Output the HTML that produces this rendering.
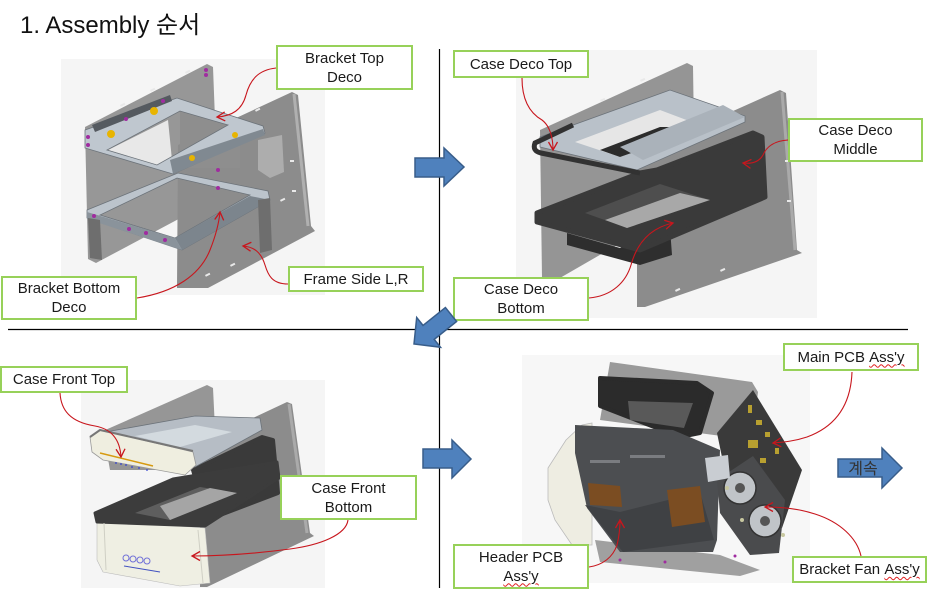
<!DOCTYPE html>
<html>
<head>
<meta charset="utf-8">
<style>
  html,body{margin:0;padding:0;background:#fff;}
  body{width:927px;height:612px;position:relative;overflow:hidden;font-family:"Liberation Sans","Noto Sans CJK KR",sans-serif;}
  svg{position:absolute;left:0;top:0;}
  .lb{position:absolute;box-sizing:border-box;border:2px solid #97d159;background:#fff;color:#1a1a1a;
      font-size:15px;line-height:19px;text-align:center;display:flex;align-items:center;justify-content:center;white-space:nowrap;}
  .sq{text-decoration:underline wavy #e02020;text-decoration-thickness:1px;text-underline-offset:2px;}
</style>
</head>
<body>
<svg width="927" height="612" viewBox="0 0 927 612">
  <!-- ===== Q1 image ===== -->
  <rect x="61" y="59" width="264" height="236" fill="#f5f5f5"/>
  <polygon points="85,127 207,64 213,67 218,198 96,263 88,259" fill="#979797"/>
  <polygon points="108,150 168,120 172,160 157,165" fill="#e8e8e8"/>
  <polygon points="178,145 292,92 298,95 311,226 315,231 208,288 177,288" fill="#8c8c8c"/>
  <line x1="294" y1="94" x2="308" y2="226" stroke="#b0b0b0" stroke-width="3"/>
  <polygon points="180,111 240,128 240,168 180,168" fill="#8e8e8e"/>
  <polygon points="258,140 282,135 284,172 270,178 258,170" fill="#adadad"/>
  <g fill="#e9e9e9">
    <rect x="120" y="105" width="5" height="2" transform="rotate(-27 120 105)"/>
    <rect x="150" y="90" width="5" height="2" transform="rotate(-27 150 90)"/>
    <rect x="185" y="72" width="5" height="2" transform="rotate(-27 185 72)"/>
    <rect x="255" y="110" width="5" height="2" transform="rotate(-27 255 110)"/>
    <rect x="280" y="200" width="5" height="2" transform="rotate(-27 280 200)"/>
    <rect x="230" y="265" width="5" height="2" transform="rotate(-27 230 265)"/>
    <rect x="205" y="275" width="5" height="2" transform="rotate(-27 205 275)"/>
    <rect x="290" y="160" width="4" height="2"/>
    <rect x="292" y="190" width="4" height="2"/>
  </g>
  <path d="M85,130 L177,98 L263,126 L265,133 L173,174 L85,148 Z M107,150 L157,165 L228,125 L180,111 Z" fill="#bfc7cf" fill-rule="evenodd" stroke="#6c737a" stroke-width="0.8"/>
  <polygon points="170,160 263,129 265,135 173,174" fill="#808991"/>
  <polygon points="92,125 170,95 172,101 95,132" fill="#555a60"/>
  <path d="M87,210 L178,173 L268,191 L270,200 L182,250 L87,218 Z M100,215 L175,238 L250,195 L177,178 Z" fill="#bcc4cc" fill-rule="evenodd" stroke="#6c737a" stroke-width="0.8"/>
  <polygon points="175,238 250,196 270,200 182,250" fill="#7c858d"/>
  <polygon points="87,212 175,238 182,250 87,219" fill="#8a939b"/>
  <polygon points="88,218 100,220 102,260 90,258" fill="#6e6e6e"/>
  <polygon points="258,200 270,198 272,250 260,253" fill="#6e6e6e"/>
  <g fill="#e8b400">
    <circle cx="111" cy="134" r="4"/><circle cx="154" cy="111" r="4"/>
    <circle cx="235" cy="135" r="3"/><circle cx="192" cy="158" r="3"/>
  </g>
  <g fill="#a02ca0">
    <circle cx="206" cy="70" r="2"/><circle cx="206" cy="75" r="2"/><circle cx="88" cy="137" r="2"/>
    <circle cx="88" cy="145" r="2"/><circle cx="163" cy="101" r="2"/><circle cx="126" cy="119" r="2"/>
    <circle cx="218" cy="170" r="2"/><circle cx="218" cy="188" r="2"/><circle cx="94" cy="216" r="2"/>
    <circle cx="129" cy="229" r="2"/><circle cx="146" cy="233" r="2"/><circle cx="165" cy="240" r="2"/>
  </g>

  <!-- ===== Q2 image ===== -->
  <rect x="516" y="50" width="301" height="268" fill="#f5f5f5"/>
  <polygon points="540,130 687,63 693,66 695,200 553,282 542,278" fill="#959595"/>
  <polygon points="637,154 780,90 786,93 797,250 802,253 645,307 637,307" fill="#8c8c8c"/>
  <line x1="782" y1="92" x2="795" y2="250" stroke="#aaaaaa" stroke-width="3"/>
  <g fill="#e9e9e9">
    <rect x="600" y="100" width="5" height="2" transform="rotate(-25 600 100)"/>
    <rect x="640" y="80" width="5" height="2" transform="rotate(-25 640 80)"/>
    <rect x="675" y="290" width="5" height="2" transform="rotate(-25 675 290)"/>
    <rect x="720" y="270" width="5" height="2" transform="rotate(-25 720 270)"/>
    <rect x="785" y="160" width="4" height="2"/><rect x="787" y="200" width="4" height="2"/>
  </g>
  <polygon points="567,233 620,248 670,228 672,255 640,265 567,245" fill="#2e2e2e"/>
  <polygon points="537,213 640,173 657,170 753,133 762,137 765,197 640,250 537,222" fill="#3a3a3a" stroke="#3a3a3a" stroke-width="5" stroke-linejoin="round"/>
  <polygon points="585,213 660,184 710,200 627,228" fill="#4e4e4e"/>
  <polygon points="605,220 680,193 710,200 627,228" fill="#a8a8a8"/>
  <polygon points="540,137 670,90 745,116 745,122 637,170 540,147" fill="#b9c1c9" stroke="#6c737a" stroke-width="0.8"/>
  <polygon points="575,142 660,110 705,127 620,157" fill="#e6e6e6"/>
  <polygon points="600,150 660,127 705,127 620,157" fill="#2c2c2c"/>
  <polygon points="620,147 723,105 745,117 643,160" fill="#aab2ba"/>
  <path d="M573,125 L535,143 Q532,151 541,153 L640,173" fill="none" stroke="#323232" stroke-width="5"/>

  <!-- ===== Q3 image ===== -->
  <rect x="81" y="380" width="244" height="208" fill="#f5f5f5"/>
  <polygon points="103,431 207,385 213,388 217,470 110,470" fill="#969696"/>
  <polygon points="200,443 287,402 292,404 310,533 314,536 207,587 200,587" fill="#8c8c8c"/>
  <line x1="289" y1="404" x2="307" y2="533" stroke="#aaaaaa" stroke-width="3"/>
  <polygon points="193,470 262,437 273,440 278,493 207,520" fill="#3a3a3a" stroke="#3a3a3a" stroke-width="4" stroke-linejoin="round"/>
  <polygon points="100,433 195,416 260,418 262,430 195,467 100,447" fill="#b6bdc5" stroke="#6c737a" stroke-width="0.8"/>
  <polygon points="135,436 195,425 232,432 180,447" fill="#d3dadf"/>
  <polygon points="90,437 100,430 193,452 196,465 185,475 103,460 92,452" fill="#efeee0" stroke="#999" stroke-width="0.8"/>
  <polyline points="90,437 100,430 193,451" fill="none" stroke="#777" stroke-width="2"/>
  <line x1="100" y1="453" x2="153" y2="466" stroke="#d69a10" stroke-width="1.5"/>
  <g fill="#3040d0"><circle cx="116" cy="463" r="0.9"/><circle cx="121" cy="464" r="0.9"/><circle cx="126" cy="465" r="0.9"/><circle cx="132" cy="467" r="0.9"/><circle cx="139" cy="468" r="0.9"/><circle cx="147" cy="470" r="0.9"/></g>
  <polygon points="97,520 205,528 210,583 180,586 103,572 97,560" fill="#efefe3" stroke="#bbb" stroke-width="0.6"/>
  <polygon points="95,513 173,479 277,462 279,478 205,526 97,522" fill="#3c3c3c" stroke="#3c3c3c" stroke-width="3" stroke-linejoin="round"/>
  <polygon points="135,513 200,487 237,493 170,520" fill="#5e5e5e"/>
  <polygon points="160,506 210,488 237,493 170,520" fill="#a5a5a5"/>
  <line x1="104" y1="523" x2="106" y2="570" stroke="#cfcfc4" stroke-width="1"/>
  <line x1="198" y1="530" x2="203" y2="583" stroke="#cfcfc4" stroke-width="1"/>
  <g fill="none" stroke="#7070d8" stroke-width="1"><circle cx="126" cy="558" r="3"/><circle cx="133" cy="559" r="3"/><circle cx="140" cy="560" r="3"/><circle cx="147" cy="561" r="3"/></g>
  <line x1="124" y1="566" x2="160" y2="572" stroke="#4050c0" stroke-width="1"/>

  <!-- ===== Q4 image ===== -->
  <rect x="522" y="355" width="288" height="228" fill="#f7f7f7"/>
  <polygon points="610,362 752,382 758,392 752,440 600,420" fill="#9a9a9a"/>
  <polygon points="595,540 720,555 760,570 740,576 600,562" fill="#a0a0a0"/>
  <polygon points="548,468 566,440 582,425 592,423 592,545 572,545 555,520 548,500" fill="#eeede2" stroke="#bbb" stroke-width="0.8"/>
  <polygon points="600,378 697,383 712,393 700,433 680,437 600,406" fill="#2b2b2b" stroke="#2b2b2b" stroke-width="4" stroke-linejoin="round"/>
  <polygon points="628,401 693,403 684,428 630,420" fill="#595959"/>
  <polygon points="575,425 673,430 720,450 717,540 713,552 620,552 587,508 575,453" fill="#4c4e51"/>
  <polygon points="585,505 620,512 700,492 714,540 623,552" fill="#3f4144"/>
  <polygon points="588,483 620,486 622,507 590,505" fill="#7b4d22"/>
  <polygon points="667,490 700,486 705,522 672,527" fill="#7b4d22"/>
  <g fill="#7a7c80"><rect x="590" y="460" width="30" height="3"/><rect x="630" y="455" width="35" height="3"/></g>
  <polygon points="717,433 753,390 802,470 782,528 735,520" fill="#3a3a3a"/>
  <g fill="#b8a030">
    <rect x="748" y="405" width="4" height="8"/><rect x="756" y="420" width="6" height="5"/>
    <rect x="765" y="432" width="5" height="5"/><rect x="748" y="440" width="10" height="8"/>
    <rect x="775" y="448" width="4" height="6"/><rect x="760" y="458" width="6" height="5"/>
  </g>
  <polygon points="717,480 753,456 785,500 779,553 750,555 720,513" fill="#4a4b4d"/>
  <circle cx="740" cy="488" r="16" fill="#c0c4c8" stroke="#333" stroke-width="1.5"/>
  <circle cx="740" cy="488" r="5" fill="#555"/>
  <circle cx="765" cy="521" r="16" fill="#c0c4c8" stroke="#333" stroke-width="1.5"/>
  <circle cx="765" cy="521" r="5" fill="#555"/>
  <polygon points="705,458 728,455 730,478 708,482" fill="#c9cdd2"/>
  <g fill="#a02ca0"><circle cx="620" cy="560" r="1.5"/><circle cx="665" cy="562" r="1.5"/><circle cx="735" cy="556" r="1.5"/></g>
  <g fill="#c8c8a0"><circle cx="727" cy="488" r="2"/><circle cx="742" cy="520" r="2"/><circle cx="783" cy="535" r="2"/></g>
</svg>

<!-- labels -->
<div class="lb" style="left:276px;top:45px;width:137px;height:45px;">Bracket Top<br>Deco</div>
<div class="lb" style="left:288px;top:266px;width:136px;height:26px;">Frame Side L,R</div>
<div class="lb" style="left:1px;top:276px;width:136px;height:44px;">Bracket Bottom<br>Deco</div>
<div class="lb" style="left:453px;top:50px;width:136px;height:28px;">Case Deco Top</div>
<div class="lb" style="left:788px;top:118px;width:135px;height:44px;">Case Deco<br>Middle</div>
<div class="lb" style="left:453px;top:277px;width:136px;height:44px;">Case Deco<br>Bottom</div>
<div class="lb" style="left:0px;top:366px;width:128px;height:27px;">Case Front Top</div>
<div class="lb" style="left:280px;top:475px;width:137px;height:45px;">Case Front<br>Bottom</div>
<div class="lb" style="left:783px;top:343px;width:136px;height:28px;"><span>Main PCB&nbsp;<span class="sq">Ass'y</span></span></div>
<div class="lb" style="left:453px;top:544px;width:136px;height:45px;"><span>Header PCB<br><span class="sq">Ass'y</span></span></div>
<div class="lb" style="left:792px;top:556px;width:135px;height:27px;"><span>Bracket Fan&nbsp;<span class="sq">Ass'y</span></span></div>

<svg width="927" height="612" viewBox="0 0 927 612">
  <defs>
    <marker id="ah" markerWidth="12" markerHeight="12" refX="9" refY="6" orient="auto" markerUnits="userSpaceOnUse">
      <path d="M1,1.5 L9,6 L1,10.5" fill="none" stroke="#c8161d" stroke-width="1.3"/>
    </marker>
  </defs>
  <!-- title -->
  <text x="20" y="33" font-size="24" fill="#111" font-family="'Liberation Sans','Noto Sans CJK KR',sans-serif">1. Assembly 순서</text>
  <!-- divider lines -->
  <line x1="439.5" y1="49" x2="439.5" y2="588" stroke="#000" stroke-width="1.2"/>
  <line x1="8" y1="329.5" x2="908" y2="329.5" stroke="#000" stroke-width="1.2"/>
  <!-- red connectors -->
  <g fill="none" stroke="#c8161d" stroke-width="1.1" marker-end="url(#ah)">
    <path d="M276,68 C258,70 250,80 246,95 C242,110 232,116 217,117"/>
    <path d="M137,298 C175,292 200,275 210,250 C216,235 219,222 220,212"/>
    <path d="M288,284 C272,284 268,275 265,265 C261,252 254,247 243,246"/>
    <path d="M522,78 C522,98 528,112 542,120 C550,126 553,138 553,150"/>
    <path d="M788,140 C772,141 766,148 763,155 C759,162 752,164 743,163"/>
    <path d="M589,298 C612,296 626,282 631,265 C637,243 650,228 673,223"/>
    <path d="M60,393 C61,410 70,422 95,426 C112,429 120,440 121,457"/>
    <path d="M348,520 C346,535 320,545 290,549 C260,553 225,556 192,556"/>
    <path d="M852,372 C851,400 840,425 807,437 C795,441 785,442 773,443"/>
    <path d="M861,556 C857,538 840,522 815,514 C800,509 785,507 765,507"/>
    <path d="M589,567 C603,565 613,557 617,545 C619,537 620,528 620,520"/>
  </g>
  <!-- blue block arrows -->
  <g fill="#4f81bd" stroke="#385d8a" stroke-width="1.5" stroke-linejoin="miter">
    <polygon points="415,158 444,158 444,148 464,167 444,186 444,177 415,177"/>
    <polygon points="456.6,321.5 445.4,307.5 423,325.4 416.7,317.5 414,344 440.5,347.3 434.2,339.4"/>
    <polygon points="423,449 452,449 452,440 471,459 452,478 452,468 423,468"/>
    <polygon points="838,459 882,459 882,448 902,468 882,488 882,477 838,477"/>
  </g>
  <text x="863" y="474" font-size="16" fill="#333" text-anchor="middle" font-family="'Liberation Sans','Noto Sans CJK KR',sans-serif">계속</text>
</svg>
</body>
</html>
